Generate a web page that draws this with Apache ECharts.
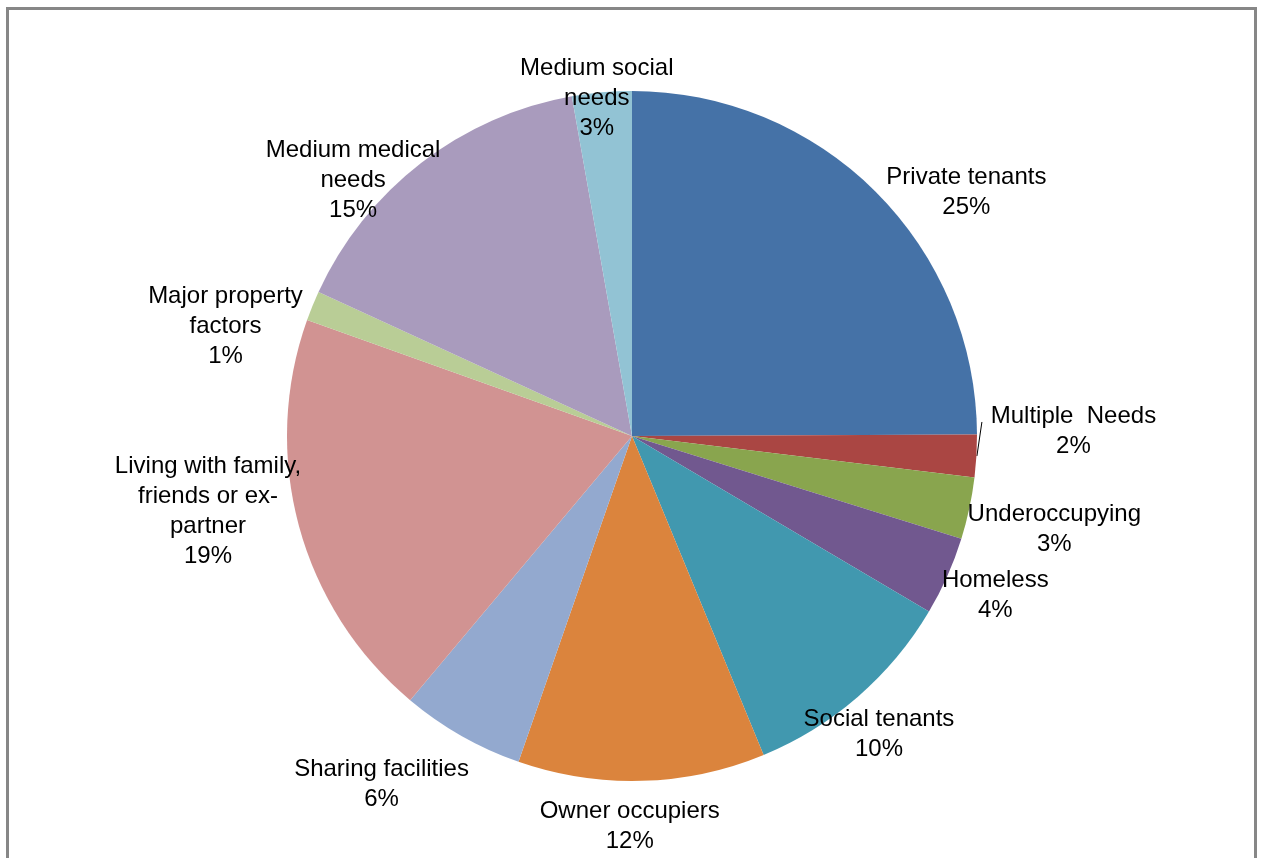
<!DOCTYPE html>
<html>
<head>
<meta charset="utf-8">
<script src="https://cdn.jsdelivr.net/npm/echarts@6/dist/echarts.min.js"></script>
<style>
html,body{margin:0;padding:0;background:#fff;}
#chart{width:1261px;height:858px;}
</style>
</head>
<body>
<div id="chart"></div>
<script>
// ---- data ----
const categories = [
  'Private tenants',
  'Multiple  Needs',
  'Underoccupying',
  'Homeless',
  'Social tenants',
  'Owner occupiers',
  'Sharing facilities',
  'Living with family,\nfriends or ex-\npartner',
  'Major property\nfactors',
  'Medium medical\nneeds',
  'Medium social\nneeds'
];
const values = [25.0, 2.0, 2.9, 3.7, 10.3, 11.6, 5.8, 19.4, 1.4, 15.4, 2.8];
const colors = ['#4572A7', '#AA4643', '#89A54E', '#71588F', '#4198AF', '#DB843D',
                '#93A9CF', '#D19392', '#B9CD96', '#A99BBD', '#92C3D4'];

// ---- layout / style ----
const CX = 632, CY = 436, R = 345;
// label nudges from the slice's outer mid-point (style tweaks)
const labelNudge = [[91, 1], [97, -25], [85, 21], [48, 19], [21, 38], [-12, 46],
                    [-80, 48], [-91, -15], [-87, 21], [-68, 17], [-5, 6]];

const total = values.reduce((a, b) => a + b, 0);
const midAngles = [];
let acc = 0;
values.forEach(v => { midAngles.push((acc + v / 2) / total * 2 * Math.PI); acc += v; });
function edgePoint(i) {
  const a = midAngles[i];
  return [CX + R * Math.sin(a), CY - R * Math.cos(a)];
}

const chart = echarts.init(document.getElementById('chart'), null, {renderer: 'canvas'});
const option = {
  animation: false,
  backgroundColor: '#ffffff',
  graphic: [{
    type: 'rect',
    shape: {x: 7.5, y: 8.5, width: 1248, height: 900},
    style: {fill: 'none', stroke: '#878787', lineWidth: 3},
    silent: true
  }],
  series: [{
    type: 'pie',
    center: [CX, CY],
    radius: R,
    startAngle: 90,
    clockwise: true,
    avoidLabelOverlap: false,
    itemStyle: {borderWidth: 0},
    emphasis: {disabled: true},
    label: {
      show: true,
      position: 'outside',
      color: '#000',
      fontFamily: "'Liberation Sans', Arial, sans-serif",
      fontSize: 24,
      lineHeight: 30,
      formatter: p => p.name + '\n' + Math.round(p.percent) + '%'
    },
    labelLine: {show: false, length: 5, length2: 5},
    labelLayout: function (params) {
      const i = params.dataIndex;
      const e = edgePoint(i);
      const res = {
        x: e[0] + labelNudge[i][0],
        y: e[1] + labelNudge[i][1],
        align: 'center',
        verticalAlign: 'middle'
      };
      if (i === 1) {
        res.labelLinePoints = [[e[0] + 0.5, e[1]], [e[0] + 5.5, e[1] - 34], [e[0] + 5.5, e[1] - 34]];
      }
      return res;
    },
    data: categories.map((c, i) => {
      const d = {name: c, value: values[i], itemStyle: {color: colors[i]}};
      if (i === 1) d.labelLine = {show: true, lineStyle: {color: '#000', width: 1}};
      return d;
    })
  }]
};
chart.setOption(option);
</script>
</body>
</html>
